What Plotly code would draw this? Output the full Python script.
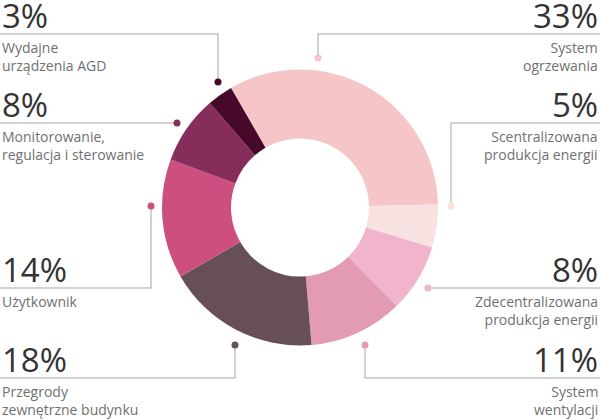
import plotly.graph_objects as go

# slices, clockwise from the top-left boundary
categories = [
    "System ogrzewania",
    "Scentralizowana produkcja energii",
    "Zdecentralizowana produkcja energii",
    "System wentylacji",
    "Przegrody zewnętrzne budynku",
    "Użytkownik",
    "Monitorowanie, regulacja i sterowanie",
    "Wydajne urządzenia AGD",
]
shares = [33, 5, 8, 11, 18, 14, 8, 3]
label_text = [
    "System<br>ogrzewania",
    "Scentralizowana<br>produkcja energii",
    "Zdecentralizowana<br>produkcja energii",
    "System<br>wentylacji",
    "Przegrody<br>zewnętrzne budynku",
    "Użytkownik",
    "Monitorowanie,<br>regulacja i sterowanie",
    "Wydajne<br>urządzenia AGD",
]
colors = [
    "#f5c5c7",
    "#f8e1e1",
    "#f0b4cd",
    "#e39bb3",
    "#664f55",
    "#cd4f80",
    "#862d5c",
    "#46092a",
]

W, H = 600, 419
# callout layout in pixels: dot x, dot y, y of the rule, side
callouts = [
    (318, 58, 34, "right"),
    (451, 206, 123, "right"),
    (428, 288, 288, "right"),
    (365, 345, 378, "right"),
    (235, 345, 378, "left"),
    (151, 206, 288, "left"),
    (177, 123, 123, "left"),
    (218, 82, 34, "left"),
]

fig = go.Figure()

fig.add_trace(
    go.Pie(
        labels=categories,
        values=shares,
        sort=False,
        direction="clockwise",
        rotation=-30,
        hole=0.5,
        marker=dict(colors=colors, line=dict(width=0)),
        textinfo="none",
        showlegend=False,
        domain=dict(x=[162 / W, 438 / W], y=[1 - 346 / H, 1 - 69 / H]),
    )
)

annotations = []
for (dx, dy, ry, side), share, text, col in zip(callouts, shares, label_text, colors):
    edge = 0 if side == "left" else W
    fig.add_trace(
        go.Scatter(
            x=[dx, dx, edge],
            y=[dy, ry, ry],
            mode="lines",
            line=dict(color="#c4c4c4", width=1.5),
            hoverinfo="skip",
            showlegend=False,
        )
    )
    fig.add_trace(
        go.Scatter(
            x=[dx],
            y=[dy],
            mode="markers",
            marker=dict(color=col, size=7),
            hoverinfo="skip",
            showlegend=False,
        )
    )
    anchor = "left" if side == "left" else "right"
    annotations.append(
        dict(
            x=edge, y=ry + 6, xref="x", yref="y",
            text=f"{share}%", showarrow=False,
            xanchor=anchor, yanchor="bottom",
            font=dict(family="Open Sans", size=33, color="#333333"),
        )
    )
    annotations.append(
        dict(
            x=edge, y=ry + 2, xref="x", yref="y",
            text=text, showarrow=False, align=anchor,
            xanchor=anchor, yanchor="top",
            font=dict(family="Open Sans", size=14, color="#707070"),
        )
    )

fig.update_layout(
    width=W,
    height=H,
    margin=dict(l=0, r=0, t=0, b=0),
    paper_bgcolor="white",
    plot_bgcolor="white",
    xaxis=dict(range=[0, W], visible=False, fixedrange=True),
    yaxis=dict(range=[H, 0], visible=False, fixedrange=True),
    annotations=annotations,
    font=dict(family="Open Sans"),
)

fig.write_html(
    "out.html",
    config={"displayModeBar": False},
    post_script="document.body.style.margin='0px';",
)
